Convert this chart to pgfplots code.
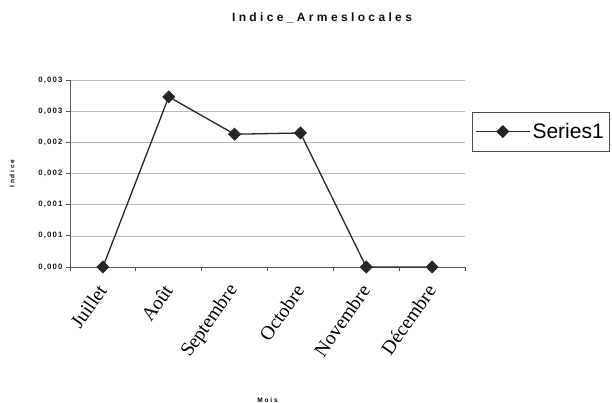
\documentclass[border=0pt]{standalone}
\usepackage{fontspec}
\setmainfont{Liberation Serif}
\newfontfamily\lab[LetterSpace=28]{Liberation Sans}
\newfontfamily\tck[LetterSpace=15]{Liberation Sans}
\newfontfamily\arial{Liberation Sans}
\usepackage{pgfplots}
\pgfplotsset{compat=1.18}
\begin{document}
\begin{tikzpicture}
\begin{axis}[
  scale only axis,
  width=395pt, height=187pt,
  xmin=-0.5, xmax=5.5,
  ymin=0, ymax=0.003,
  scaled y ticks=false,
  axis lines*=left,
  axis line style={gray!70!black, line width=0.8pt},
  tick align=outside,
  major tick length=4pt,
  tick style={gray!70!black, line width=0.8pt},
  xtick={-0.5,0.5,...,5.5},
  xticklabels={},
  extra x ticks={0,1,2,3,4,5},
  extra x tick labels={Juillet,Août,Septembre,Octobre,Novembre,Décembre},
  extra x tick style={major tick length=0pt, grid=none,
    xticklabel style={yshift=-19pt, rotate=55, anchor=east, font=\fontsize{19.5}{20}\selectfont, inner sep=1pt}},
  ytick={0,0.0005,0.001,0.0015,0.002,0.0025,0.003},
  yticklabels={{0,000},{0,001},{0,001},{0,002},{0,002},{0,003},{0,003}},
  yticklabel style={font=\tck\bfseries\fontsize{7.8}{8}\selectfont, gray!20!black},
  ymajorgrids,
  grid style={gray!55, line width=0.6pt},
  title={\lab\bfseries\fontsize{12}{12}\selectfont Indice\_Armeslocales},
  title style={at={(rel axis cs:0.638,1.30)}, anchor=center, gray!10!black},
  xlabel={\lab\bfseries\fontsize{6.5}{6.5}\selectfont Mois},
  xlabel style={at={(rel axis cs:0.5,-0.711)}, anchor=center},
  ylabel={\lab\bfseries\fontsize{6.5}{6.5}\selectfont Indice},
  ylabel style={at={(rel axis cs:-0.147,0.5)}, anchor=center},
  legend style={at={(rel axis cs:1,0.829)}, anchor=north west, xshift=7pt,
    draw=gray!60!black, font=\arial\fontsize{21}{21}\selectfont,
    inner xsep=3pt, inner ysep=9pt},
  legend image code/.code={
    \draw[mark repeat=2, mark phase=2] plot coordinates {(0pt,0pt) (27pt,0pt) (54pt,0pt)};},
]
\addplot[black!85, line width=1.3pt, mark=square*, mark size=4pt,
  mark options={rotate=45, fill=black!85}]
  coordinates {(0,0) (1,0.00273) (2,0.00213) (3,0.00215) (4,0) (5,0)};
\addlegendentry{Series1}
\coordinate (O) at (rel axis cs:0,0);
\end{axis}
\pgfresetboundingbox
\path ([shift={(-70pt,-136pt)}]O) rectangle ++(612pt,403pt);
\end{tikzpicture}
\end{document}
